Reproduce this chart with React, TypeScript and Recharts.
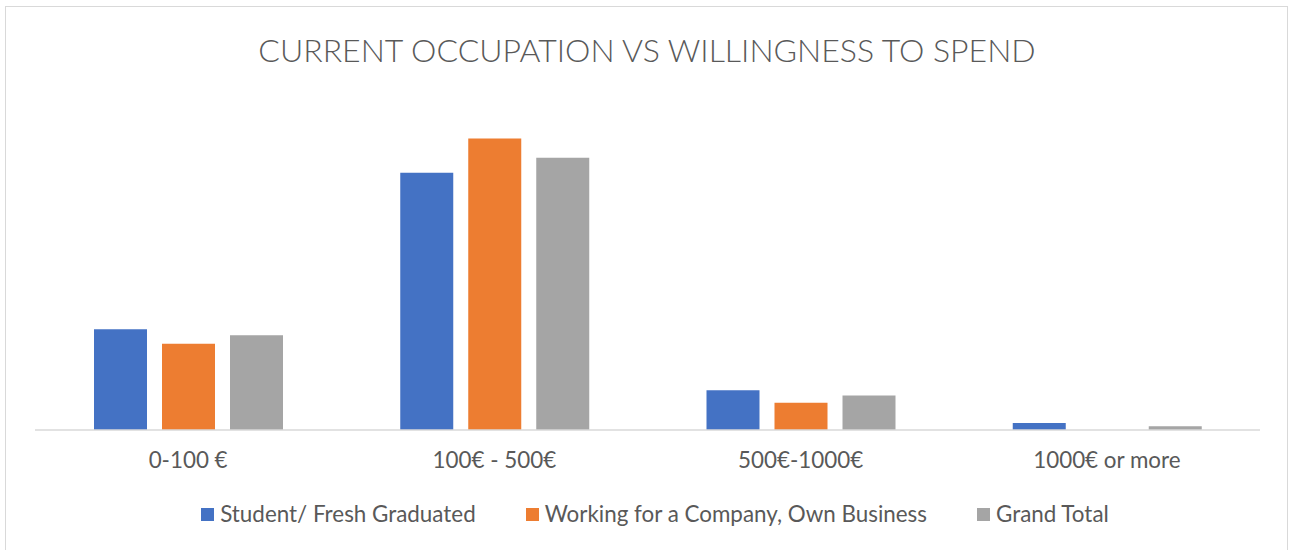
import React from 'react';
import { BarChart, Bar, XAxis, YAxis } from 'recharts';

// Share of each group (percent) per spending band
const categories = ['0-100 €', '100€ - 500€', '500€-1000€', '1000€ or more'];
const studentValues = [24.9, 63.5, 9.8, 1.7];
const workingValues = [21.3, 72.0, 6.7, 0];
const grandTotalValues = [23.4, 67.2, 8.5, 0.9];

const seriesNames = ['Student/ Fresh Graduated', 'Working for a Company, Own Business', 'Grand Total'];
const seriesKeys = ['student', 'working', 'total'];
const seriesColors = ['#4472C4', '#ED7D31', '#A5A5A5'];

const data = categories.map((name, i) => ({
  name,
  student: studentValues[i],
  working: workingValues[i],
  total: grandTotalValues[i],
}));

const FONT = 'Lato, "Open Sans", sans-serif';
const TEXT = '#595959';

export default function App() {
  return (
    <div style={{ position: 'absolute', left: 0, top: 0, width: 1290, height: 550, background: '#fff', overflow: 'hidden', fontFamily: FONT }}>
      {/* chart frame */}
      <div style={{ position: 'absolute', left: 5, top: 6, width: 1281, height: 560, border: '1px solid #d9d9d9' }} />

      <div style={{ position: 'absolute', left: 0, top: 32, width: 1294, textAlign: 'center', fontSize: 32, fontWeight: 300, color: TEXT, lineHeight: '36px' }}>
        CURRENT OCCUPATION VS WILLINGNESS TO SPEND
      </div>

      <div style={{ position: 'absolute', left: 0, top: 0 }}>
        <BarChart width={1290} height={550} data={data} barSize={53} barGap={15} margin={{ top: 106, right: 30, left: 35, bottom: 90 }}>
          <YAxis hide domain={[0, 80]} />
          <XAxis
            dataKey="name"
            height={30}
            tickLine={false}
            axisLine={{ stroke: '#d9d9d9', strokeWidth: 1.5 }}
            tick={{ fill: TEXT, fontSize: 22.4, fontFamily: FONT }}
            dy={14}
          />
          {seriesKeys.map((k, i) => (
            <Bar key={k} dataKey={k} name={seriesNames[i]} fill={seriesColors[i]} isAnimationActive={false} />
          ))}
        </BarChart>
      </div>

      <div style={{ position: 'absolute', left: 10, width: 1290, top: 501, display: 'flex', justifyContent: 'center', gap: 50, fontSize: 22.4, color: TEXT, lineHeight: '26px' }}>
        {seriesNames.map((n, i) => (
          <div key={n} style={{ display: 'flex', alignItems: 'center' }}>
            <span style={{ display: 'inline-block', width: 13, height: 13, background: seriesColors[i], marginRight: 6 }} />
            <span>{n}</span>
          </div>
        ))}
      </div>
    </div>
  );
}
